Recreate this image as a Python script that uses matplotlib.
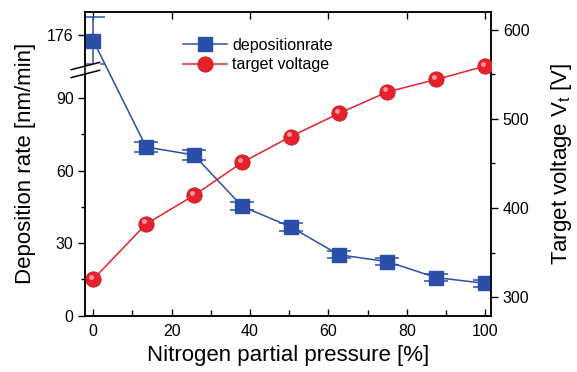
import numpy as np
import matplotlib
matplotlib.use("Agg")
import matplotlib.pyplot as plt
from matplotlib.scale import FuncScale
from matplotlib.transforms import offset_copy
from matplotlib.ticker import FixedLocator, MultipleLocator

plt.rcParams['font.family'] = ['Liberation Sans', 'DejaVu Sans']
plt.rcParams['mathtext.fontset'] = 'custom'
plt.rcParams['mathtext.rm'] = 'Liberation Sans'

# data
pressure = [0, 13.5, 25.7, 38, 50.4, 62.7, 75, 87.5, 100]
rate = [173.6, 69.7, 66.4, 45.2, 36.7, 25.2, 22.4, 15.8, 13.4]
rate_err = [9.8, 2, 2, 1.7, 1.5, 1.5, 1.5, 1.5, 1.3]
voltage = [320, 382, 414, 451, 480, 506, 530, 544, 559]

rate_ticks = [0, 30, 60, 90, 176]
rate_minor = [15, 45, 75]

blue = '#2b4ea8'
red = '#e5222b'

# broken left axis: compress the empty band between lo and hi
lo, hi, eps = 101.5, 161.5, 1e-3

def fwd(v):
    v = np.asarray(v, dtype=float)
    return np.where(v <= lo, v,
                    np.where(v >= hi, lo + (hi - lo) * eps + (v - hi),
                             lo + (v - lo) * eps))

def inv(u):
    u = np.asarray(u, dtype=float)
    top = lo + (hi - lo) * eps
    return np.where(u <= lo, u,
                    np.where(u >= top, u - top + hi,
                             lo + (u - lo) / eps))

fig = plt.figure(figsize=(5.77, 3.72), dpi=100)
ax = fig.add_axes([0.148, 0.151, 0.703, 0.8175])
ax.set_yscale(FuncScale(ax, (fwd, inv)))
ax.set_xlim(-2, 101.5)
ax.set_ylim(0, 185.5)

ax.errorbar(pressure, rate, yerr=rate_err, color=blue, lw=1.1,
            marker='s', ms=9.5, mfc=blue, mec=blue,
            capsize=8.5, elinewidth=1.1, capthick=1.1, zorder=3)

ax.yaxis.set_major_locator(FixedLocator(rate_ticks))
ax.yaxis.set_minor_locator(FixedLocator(rate_minor))
ax.xaxis.set_major_locator(MultipleLocator(20))
ax.xaxis.set_minor_locator(MultipleLocator(10))
ax.tick_params(axis='y', which='both', direction='out', labelsize=11.5)
ax.tick_params(axis='y', which='major', length=5, width=1)
ax.tick_params(axis='y', which='minor', length=3, width=1)
ax.tick_params(axis='x', which='both', direction='in', top=True,
               labelsize=11.5, width=1, length=5, pad=6)
ax.tick_params(axis='x', which='minor', top=False, length=4)
ax.set_xlabel('Nitrogen partial pressure [%]', fontsize=16, labelpad=4)
ax.set_ylabel('Deposition rate [nm/min]', fontsize=16, labelpad=8)
for s in ax.spines.values():
    s.set_linewidth(1.1)

# break marks on the left spine
yb = (fwd(lo) - 0) / (fwd(185.5) - 0)
dx, dy, gap = 0.035, 0.012, 0.013
ax.fill([-dx, dx, dx, -dx], [yb - gap - dy, yb - gap + dy, yb + gap + dy, yb + gap - dy],
        color='white', transform=ax.transAxes, clip_on=False, zorder=5)
for off in (-gap, gap):
    ax.plot([-dx, dx], [yb + off - dy, yb + off + dy], color='black', lw=1.1,
            transform=ax.transAxes, clip_on=False, zorder=6)

ax2 = ax.twinx()
ax2.set_ylim(279, 620)
ax2.plot(pressure, voltage, color=red, lw=1.1, marker='o', ms=11,
         mfc=red, mec='#c81820', mew=0.6, zorder=3)
hl = offset_copy(ax2.transData, fig=fig, x=-1.5, y=1.8, units='points')
ax2.plot(pressure, voltage, 'o', ms=3.5, color='#ff9a9a', mec='none',
         transform=hl, zorder=4)
ax2.yaxis.set_major_locator(MultipleLocator(100))
ax2.yaxis.set_minor_locator(MultipleLocator(50))
ax2.tick_params(axis='y', which='both', direction='out', labelsize=11.5, width=1)
ax2.tick_params(axis='y', which='major', length=5)
ax2.tick_params(axis='y', which='minor', length=3)
ax2.set_ylabel('Target voltage V$_\\mathregular{t}$ [V]', fontsize=16, labelpad=14)
for s in ax2.spines.values():
    s.set_linewidth(1.1)

h1 = plt.Line2D([], [], color=blue, lw=1.1, marker='s', ms=9.5)
h2 = plt.Line2D([], [], color=red, lw=1.1, marker='o', ms=11, mec='#c81820', mew=0.6)
ax2.legend([h1, h2], ['depositionrate', 'target voltage'], loc='upper left',
           bbox_to_anchor=(0.24, 0.915), frameon=False, fontsize=11.5,
           handlelength=2.8, handletextpad=0.3, labelspacing=0.3,
           borderpad=0, borderaxespad=0)

fig.savefig('out.png', dpi=100)
